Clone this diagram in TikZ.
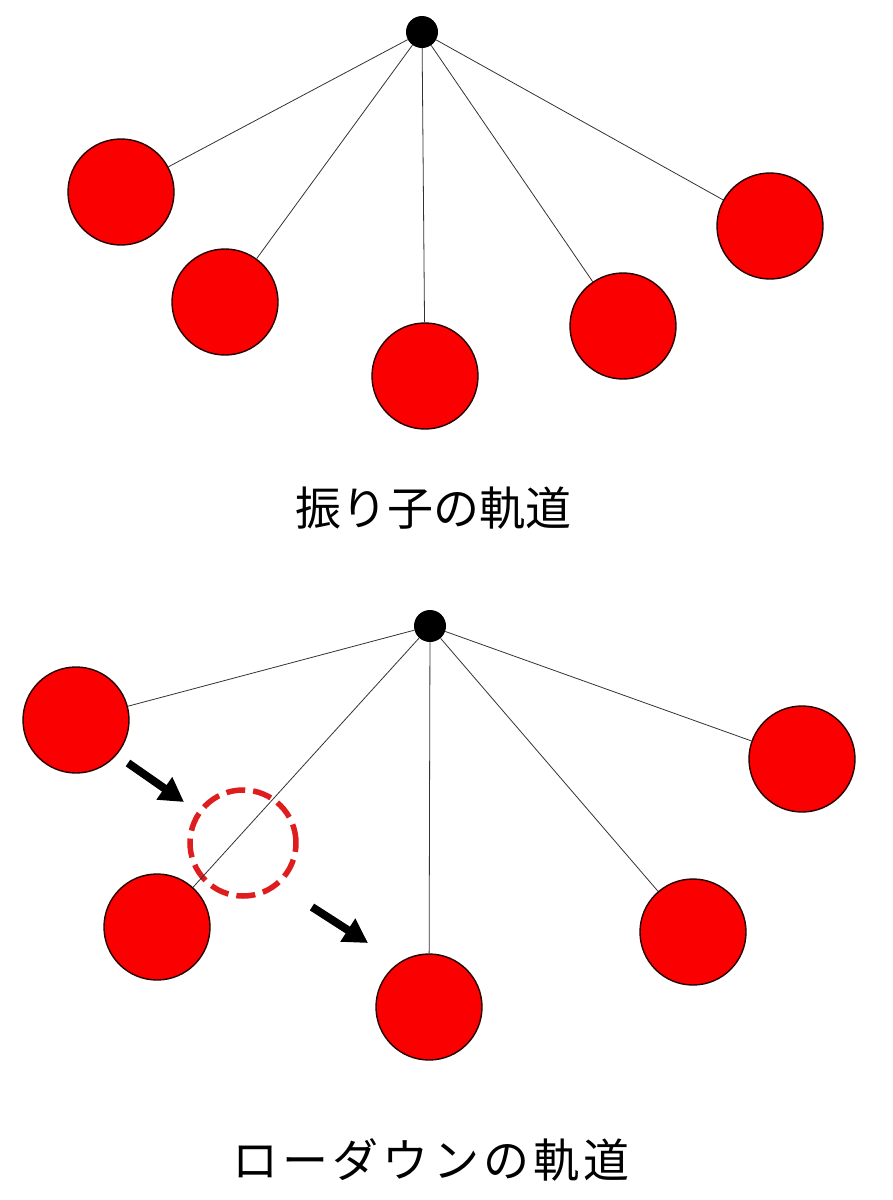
\documentclass[tikz,border=0pt]{standalone}
\usepackage{fontspec}
\newfontfamily\jpfont{Noto Sans CJK JP}
\usetikzlibrary{arrows.meta}
\definecolor{ghostred}{RGB}{222,30,30}
\tikzstyle{bob}=[shape=circle,minimum size=106pt,inner sep=0,line width=1.4pt,draw=black!85!red,fill=red!98!black]
\tikzstyle{pivot}=[shape=circle,minimum size=32pt,inner sep=0,fill=black]
\tikzstyle{ghost}=[shape=circle,minimum size=106pt,inner sep=0,line width=5.5pt,draw=ghostred,dash pattern=on 19pt off 8pt]
\tikzstyle{rope}=[line width=0.8pt,black!80]
\tikzstyle{arrow}=[line width=8pt,-{Triangle[length=24pt,width=26pt]}]
\tikzstyle{caption}=[font=\jpfont\fontsize{46}{50}\selectfont]

\begin{document}
\begin{tikzpicture}[x=1pt,y=-1pt]
\useasboundingbox (0,0) rectangle (893,1200);
% pendulum
\node[pivot] (p) at (422,32) {};
\node[bob] (a1) at (121,192) {};
\node[bob] (a2) at (225,302) {};
\node[bob] (a3) at (425,376) {};
\node[bob] (a4) at (623,326) {};
\node[bob] (a5) at (770,226) {};
\draw[rope] (p)--(a1) (p)--(a2) (p)--(a3) (p)--(a4) (p)--(a5);
\node[caption] (t1) at (433,508) {振り子の軌道};
% lowdown
\node[pivot] (q) at (430,626) {};
\node[bob] (b1) at (76,720) {};
\node[bob] (b2) at (157,927) {};
\node[bob] (b3) at (429,1007) {};
\node[bob] (b4) at (693,932) {};
\node[bob] (b5) at (802,759) {};
\node[ghost] (g) at (243,843) {};
\draw[rope] (q)--(b1) (q)--(b2) (q)--(b3) (q)--(b4) (q)--(b5);
\coordinate (s1) at (128,763);
\coordinate (e1) at (184,802);
\coordinate (s2) at (312,907);
\coordinate (e2) at (368,943);
\draw[arrow] (s1)--(e1);
\draw[arrow] (s2)--(e2);
\node[caption] (t2) at (431,1160) {\addfontfeatures{LetterSpace=9}ローダウンの軌道};
\end{tikzpicture}
\end{document}
